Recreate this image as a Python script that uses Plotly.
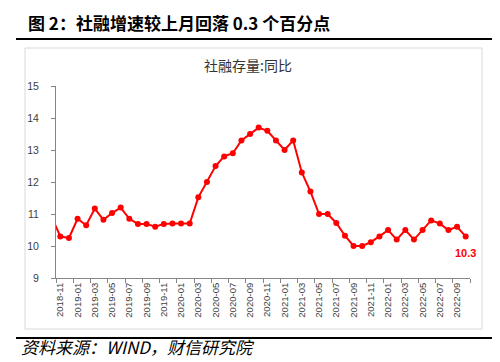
import plotly.graph_objects as go

# ---- data ----
months = ["2018-10",
          "2018-11", "2018-12", "2019-01", "2019-02", "2019-03", "2019-04", "2019-05", "2019-06",
          "2019-07", "2019-08", "2019-09", "2019-10", "2019-11", "2019-12", "2020-01", "2020-02",
          "2020-03", "2020-04", "2020-05", "2020-06", "2020-07", "2020-08", "2020-09", "2020-10",
          "2020-11", "2020-12", "2021-01", "2021-02", "2021-03", "2021-04", "2021-05", "2021-06",
          "2021-07", "2021-08", "2021-09", "2021-10", "2021-11", "2021-12", "2022-01", "2022-02",
          "2022-03", "2022-04", "2022-05", "2022-06", "2022-07", "2022-08", "2022-09", "2022-10"]
values = [10.9,
          10.3, 10.25, 10.85, 10.65, 11.17, 10.82, 11.03, 11.2,
          10.85, 10.69, 10.69, 10.6, 10.69, 10.7, 10.7, 10.7,
          11.52, 12.0, 12.5, 12.8, 12.9, 13.3, 13.5, 13.7,
          13.6, 13.3, 13.0, 13.3, 12.3, 11.7, 11.0, 11.0,
          10.72, 10.32, 10.0, 10.0, 10.12, 10.3, 10.5, 10.2,
          10.5, 10.2, 10.5, 10.8, 10.7, 10.5, 10.6, 10.3]
y_ticks = [9, 10, 11, 12, 13, 14, 15]
title_text = "图 2：社融增速较上月回落 0.3 个百分点"
chart_title = "社融存量:同比"
source_text = "资料来源：WIND，财信研究院"
last_label = "10.3"

W, H = 500, 362
ML, MR, MT, MB = 48, 38, 78, 92
PW, PH = W - ML - MR, H - MT - MB


def px(x):
    return (x - ML) / PW


def py(y):
    return (H - MB - y) / PH


xs = list(range(-1, len(months) - 1))  # first month lies just outside the visible window
vis_idx = [i for i in xs if i >= 0]
tickvals = vis_idx[::2]
ticktext = [months[i + 1] for i in tickvals]

RED = "#FF0000"
AX = "#868686"

fig = go.Figure()
fig.add_trace(go.Scatter(
    x=xs, y=values, mode="lines+markers",
    line=dict(color=RED, width=2),
    marker=dict(color=RED, size=6),
    cliponaxis=True, hoverinfo="skip", showlegend=False,
))

fig.update_layout(
    width=W, height=H,
    margin=dict(l=ML, r=MR, t=MT, b=MB, pad=0),
    paper_bgcolor="white", plot_bgcolor="white",
    font=dict(family="Liberation Sans, Arial, sans-serif", color="#404040"),
    xaxis=dict(
        range=[-0.5, len(vis_idx) - 0.5],
        tickmode="array", tickvals=tickvals, ticktext=ticktext,
        tickangle=-90, tickfont=dict(size=9.5, color="#404040"),
        ticks="", showgrid=False, zeroline=False,
        showline=True, linecolor=AX, linewidth=1,
        minor=dict(tickmode="array",
                   tickvals=[v - 0.5 for v in vis_idx[::2]] + [len(vis_idx) - 0.5],
                   ticks="outside", ticklen=4, tickcolor=AX, showgrid=False),
    ),
    yaxis=dict(
        range=[y_ticks[0], y_ticks[-1]],
        tickmode="array", tickvals=y_ticks,
        tickfont=dict(size=10.5, color="#404040"),
        ticks="outside", ticklen=4, tickcolor=AX, ticklabelstandoff=10,
        showgrid=False, zeroline=False,
        showline=True, linecolor=AX, linewidth=1,
    ),
    shapes=[
        dict(type="line", xref="paper", yref="paper", x0=px(8), x1=px(484), y0=py(31), y1=py(31),
             line=dict(color="black", width=2)),
        dict(type="rect", xref="paper", yref="paper", x0=px(17), x1=px(474), y0=py(40), y1=py(321),
             line=dict(color="#D9D9D9", width=1)),
        dict(type="line", xref="paper", yref="paper", x0=px(8), x1=px(484), y0=py(330), y1=py(330),
             line=dict(color="black", width=2)),
    ],
    annotations=[
        dict(text="<b>" + title_text + "</b>", xref="paper", yref="paper", x=px(18), y=py(0),
             xanchor="left", yanchor="top", showarrow=False,
             font=dict(family="Noto Sans CJK SC", size=17, color="black")),
        dict(text=chart_title, xref="paper", yref="paper", x=px(240), y=py(57),
             xanchor="center", yanchor="middle", showarrow=False,
             font=dict(family="Noto Sans CJK SC", size=14, color="#333333")),
        dict(text="<i>" + source_text + "</i>", xref="paper", yref="paper", x=px(11), y=py(338),
             xanchor="left", yanchor="middle", showarrow=False,
             font=dict(family="Noto Sans CJK SC", size=17, color="black")),
        dict(text="<b>" + last_label + "</b>", x=xs[-1], y=values[-1], xref="x", yref="y",
             yshift=-17, xanchor="center", yanchor="middle", showarrow=False,
             font=dict(family="Liberation Sans, Arial, sans-serif", size=11, color=RED)),
    ],
)

fig.write_html("out.html")
